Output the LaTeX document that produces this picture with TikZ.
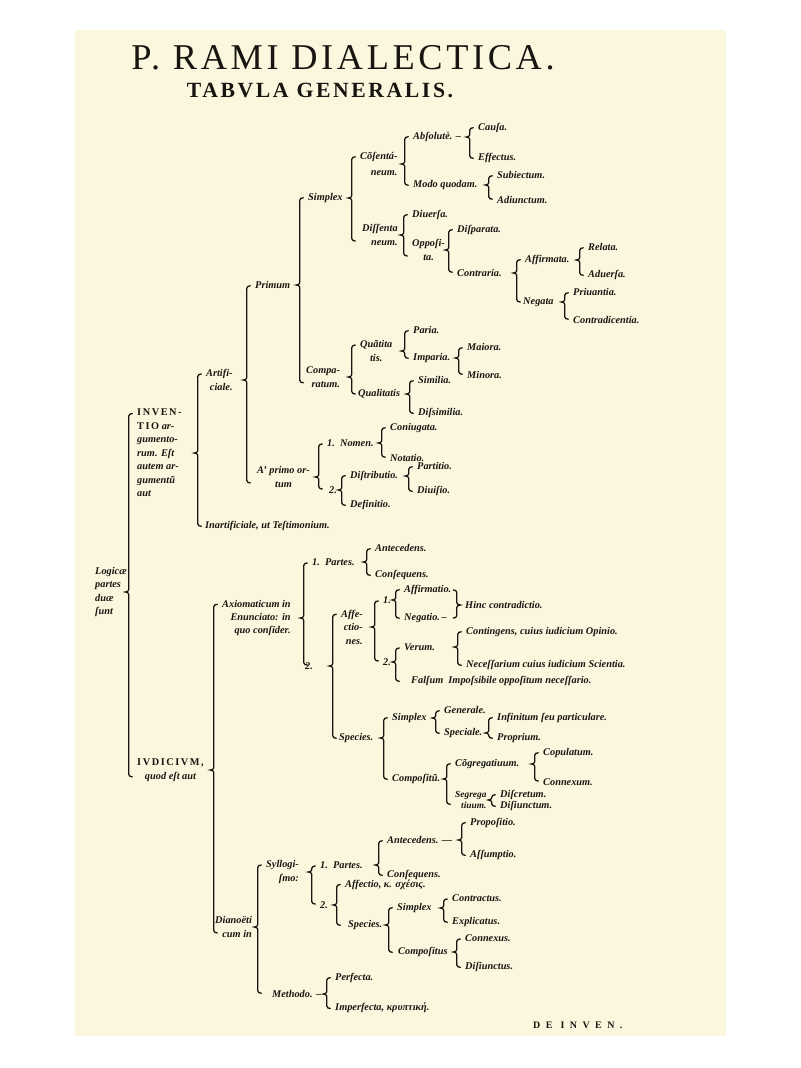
\documentclass[tikz,border=0pt]{standalone}
\usepackage{fontspec}
\setmainfont{Liberation Serif}
\usetikzlibrary{calc}
\definecolor{paper}{RGB}{251,247,222}
\definecolor{ink}{RGB}{24,21,17}
\newcommand{\brc}[3]{\draw[brc] let \p1 = (#1.east), \p2 = (#2.north west), \p3 = (#3.south west) in (\x2-4pt, \y2-4pt) to[out=180, in=90] (\x2-7pt, \y2-6pt) -- (\x2-7pt, \y1+2pt) to[out=-90, in=0] (\x2-10pt, \y1) to[out=0, in=90] (\x2-7pt, \y1-2pt) -- (\x2-7pt, \y3+6pt) to[out=-90, in=180] (\x2-4pt, \y3+4pt)}
\newcommand{\rbrc}[3]{\draw[brc] let \p1 = (#3.west), \p2 = (#1.west), \p3 = (#2.west) in (\x1-10pt, \y2) to[out=0, in=90] (\x1-7pt, \y2-2pt) -- (\x1-7pt, \y1+2pt) to[out=-90, in=180] (\x1-4pt, \y1) to[out=180, in=90] (\x1-7pt, \y1-2pt) -- (\x1-7pt, \y3+2pt) to[out=-90, in=0] (\x1-10pt, \y3)}
\newcommand{\caps}[1]{{\upshape\addfontfeature{LetterSpace=15}#1}}

\begin{document}
\begin{tikzpicture}[x=0.03cm, y=-0.03cm,
    lbl/.style={font=\fontsize{8.8}{11.5}\selectfont\bfseries\itshape, text=ink, inner sep=0pt, anchor=west},
    brc/.style={draw=ink, line width=1.1pt, line cap=round},
    ttl/.style={text=ink, inner sep=0pt}]
  \fill[white] (0,0) rectangle (800,1068);
  \fill[paper] (75,30) rectangle (726,1036);
  \useasboundingbox (0,0) rectangle (800,1068);

  \node[ttl, font=\fontsize{31}{34}\selectfont\addfontfeature{LetterSpace=10}] (title) at (343,58) {P. RAMI DIALECTICA.};
  \node[ttl, font=\fontsize{18.5}{22}\selectfont\bfseries\addfontfeature{LetterSpace=12}] (subtitle) at (320,90) {TABVLA GENERALIS.};

  \node[lbl] (causa) at (478,128) {Cauſa.};
  \node[lbl] (effectus) at (478,158) {Effectus.};
  \node[lbl] (absolute) at (413,137) {Abſolutè. –};
  \node[lbl] (subiectum) at (497,175) {Subiectum.};
  \node[lbl] (adiunctum) at (497,200) {Adiunctum.};
  \node[lbl] (modo) at (413,185) {Modo quodam.};
  \node[lbl, align=right] (consent) at (360,164) {Cõſentá-\\[2pt]neum.};
  \node[lbl] (diuersa) at (412,215) {Diuerſa.};
  \node[lbl] (disparata) at (457,230) {Diſparata.};
  \node[lbl] (relata) at (588,247) {Relata.};
  \node[lbl] (aduersa) at (588,275) {Aduerſa.};
  \node[lbl] (affirmata) at (525,260) {Affirmata.};
  \node[lbl] (priuantia) at (573,292) {Priuantia.};
  \node[lbl] (contradic) at (573,320) {Contradicentia.};
  \node[lbl] (negata) at (523,302) {Negata};
  \node[lbl] (contraria) at (457,273) {Contraria.};
  \node[lbl, align=center] (opposita) at (412,250) {Oppoſi-\\ta.};
  \node[lbl, align=right] (dissent) at (362,235) {Diſſenta\\neum.};
  \node[lbl] (simplexA) at (308,198) {Simplex};
  \node[lbl] (paria) at (413,330) {Paria.};
  \node[lbl] (maiora) at (467,347) {Maiora.};
  \node[lbl] (minora) at (467,375) {Minora.};
  \node[lbl] (imparia) at (413,358) {Imparia.};
  \node[lbl, align=center] (quantitatis) at (360,351) {Quãtita\\tis.};
  \node[lbl] (similia) at (418,380) {Similia.};
  \node[lbl] (dissimilia) at (418,413) {Diſsimilia.};
  \node[lbl] (qualitatis) at (358,394) {Qualitatis};
  \node[lbl, align=right] (comparatum) at (306,377) {Compa-\\ratum.};
  \node[lbl] (primum) at (255,285) {Primum};
  \node[lbl] (coniugata) at (390,428) {Coniugata.};
  \node[lbl] (notatio) at (390,458) {Notatio.};
  \node[lbl] (nomen) at (327,443) {1.\ \ Nomen.};
  \node[lbl] (partitio) at (417,466) {Partitio.};
  \node[lbl] (diuisio) at (417,491) {Diuiſio.};
  \node[lbl] (distributio) at (350,476) {Diſtributio.};
  \node[lbl] (definitio) at (350,505) {Definitio.};
  \node[lbl] (twoA) at (329,490) {2.};
  \node[lbl, align=center] (aprimo) at (257,477) {A’ primo or-\\tum};
  \node[lbl, align=right] (artificiale) at (206,380) {Artifi-\\ciale.};
  \node[lbl] (inartificiale) at (205,526) {Inartificiale, ut Teſtimonium.};
  \node[lbl, align=left] (inventio) at (137,453) {\caps{INVEN-}\\\caps{TIO} ar-\\gumento-\\rum. Eſt\\autem ar-\\gumentũ\\aut};
  \node[lbl, align=left] (logicae) at (95,592) {Logicæ\\partes\\duæ\\ſunt};
  \node[lbl, align=center] (iudicium) at (137,770) {\caps{IVDICIVM,}\\quod eſt aut};

  \node[lbl] (antecedensA) at (375,548) {Antecedens.};
  \node[lbl] (consequensA) at (375,575) {Conſequens.};
  \node[lbl] (partesA) at (312,562) {1.\ \ Partes.};
  \node[lbl] (affirmatio) at (404,590) {Affirmatio.};
  \node[lbl] (negatio) at (404,618) {Negatio.\,–};
  \node[lbl] (oneB) at (383,600) {1.};
  \node[lbl] (hinc) at (465,605) {Hinc contradictio.};
  \node[lbl] (contingens) at (466,632) {Contingens, cuius iudicium Opinio.};
  \node[lbl] (necessarium) at (466,665) {Neceſſarium cuius iudicium Scientia.};
  \node[lbl] (verum) at (404,647) {Verum.};
  \node[lbl] (falsum) at (411,681) {Falſum\ \ Impoſsibile oppoſitum neceſſario.};
  \node[lbl] (twoC) at (383,662) {2.};
  \node[lbl, align=right] (affectiones) at (341,627) {Affe-\\ctio-\\nes.};
  \node[lbl] (generale) at (444,710) {Generale.};
  \node[lbl] (infinitum) at (497,718) {Infinitum ſeu particulare.};
  \node[lbl] (proprium) at (497,738) {Proprium.};
  \node[lbl] (speciale) at (444,733) {Speciale.};
  \node[lbl] (simplexB) at (392,718) {Simplex};
  \node[lbl] (copulatum) at (543,753) {Copulatum.};
  \node[lbl] (connexum) at (543,782) {Connexum.};
  \node[lbl] (congreg) at (455,764) {Cõgregatiuum.};
  \node[lbl] (discretum) at (500,795) {Diſcretum.};
  \node[lbl] (disiunctum) at (500,806) {Diſiunctum.};
  \node[lbl, align=right, font=\fontsize{8}{9.5}\selectfont\bfseries\itshape] (segreg) at (455,800) {Segrega\\tiuum.};
  \node[lbl] (compositu) at (392,779) {Compoſitũ.};
  \node[lbl] (speciesA) at (339,738) {Species.};
  \node[lbl] (twoB) at (305,666) {2.};
  \node[lbl, align=right] (axiom) at (222,618) {Axiomaticum in\\Enunciato: in\\quo conſider.};

  \node[lbl] (propositio) at (470,823) {Propoſitio.};
  \node[lbl] (assumptio) at (470,855) {Aſſumptio.};
  \node[lbl] (antecedensB) at (387,840) {Antecedens. —};
  \node[lbl] (consequensB) at (387,875) {Conſequens.};
  \node[lbl] (partesB) at (320,865) {1.\ \ Partes.};
  \node[lbl] (affectio) at (345,885) {Affectio, κ. σχέσις.};
  \node[lbl] (contractus) at (452,898) {Contractus.};
  \node[lbl] (explicatus) at (452,922) {Explicatus.};
  \node[lbl] (simplexC) at (397,908) {Simplex};
  \node[lbl] (connexus) at (465,938) {Connexus.};
  \node[lbl] (disiunctus) at (465,967) {Diſiunctus.};
  \node[lbl] (compositus) at (398,952) {Compoſitus};
  \node[lbl] (speciesB) at (348,925) {Species.};
  \node[lbl] (twoD) at (320,905) {2.};
  \node[lbl, align=right] (syllog) at (266,872) {Syllogi-\\ſmo:};
  \node[lbl] (perfecta) at (335,978) {Perfecta.};
  \node[lbl] (imperfecta) at (335,1008) {Imperfecta, κρυπτική.};
  \node[lbl] (methodo) at (272,994) {Methodo. –};
  \node[lbl, align=right] (dianoet) at (215,927) {Dianoëti\\cum in};
  \node[lbl, font=\fontsize{8.5}{10}\selectfont\bfseries\addfontfeature{LetterSpace=55}] (deinven) at (533,1025) {DE INVEN.};

  \brc{logicae}{inventio}{iudicium};
  \brc{inventio}{artificiale}{inartificiale};
  \brc{artificiale}{primum}{aprimo};
  \brc{primum}{simplexA}{comparatum};
  \brc{simplexA}{consent}{dissent};
  \brc{consent}{absolute}{modo};
  \brc{absolute}{causa}{effectus};
  \brc{modo}{subiectum}{adiunctum};
  \brc{dissent}{diuersa}{opposita};
  \brc{opposita}{disparata}{contraria};
  \brc{contraria}{affirmata}{negata};
  \brc{affirmata}{relata}{aduersa};
  \brc{negata}{priuantia}{contradic};
  \brc{comparatum}{quantitatis}{qualitatis};
  \brc{quantitatis}{paria}{imparia};
  \brc{imparia}{maiora}{minora};
  \brc{qualitatis}{similia}{dissimilia};
  \brc{aprimo}{nomen}{twoA};
  \brc{nomen}{coniugata}{notatio};
  \brc{twoA}{distributio}{definitio};
  \brc{distributio}{partitio}{diuisio};

  \brc{iudicium}{axiom}{dianoet};
  \brc{axiom}{partesA}{twoB};
  \brc{partesA}{antecedensA}{consequensA};
  \brc{twoB}{affectiones}{speciesA};
  \brc{affectiones}{oneB}{twoC};
  \brc{oneB}{affirmatio}{negatio};
  \rbrc{affirmatio}{negatio}{hinc};
  \brc{twoC}{verum}{falsum};
  \brc{verum}{contingens}{necessarium};
  \brc{speciesA}{simplexB}{compositu};
  \brc{simplexB}{generale}{speciale};
  \brc{speciale}{infinitum}{proprium};
  \brc{compositu}{congreg}{segreg};
  \brc{congreg}{copulatum}{connexum};
  \brc{segreg}{discretum}{disiunctum};
  \brc{dianoet}{syllog}{methodo};
  \brc{syllog}{partesB}{twoD};
  \brc{partesB}{antecedensB}{consequensB};
  \brc{antecedensB}{propositio}{assumptio};
  \brc{twoD}{affectio}{speciesB};
  \brc{speciesB}{simplexC}{compositus};
  \brc{simplexC}{contractus}{explicatus};
  \brc{compositus}{connexus}{disiunctus};
  \brc{methodo}{perfecta}{imperfecta};
\end{tikzpicture}
\end{document}
